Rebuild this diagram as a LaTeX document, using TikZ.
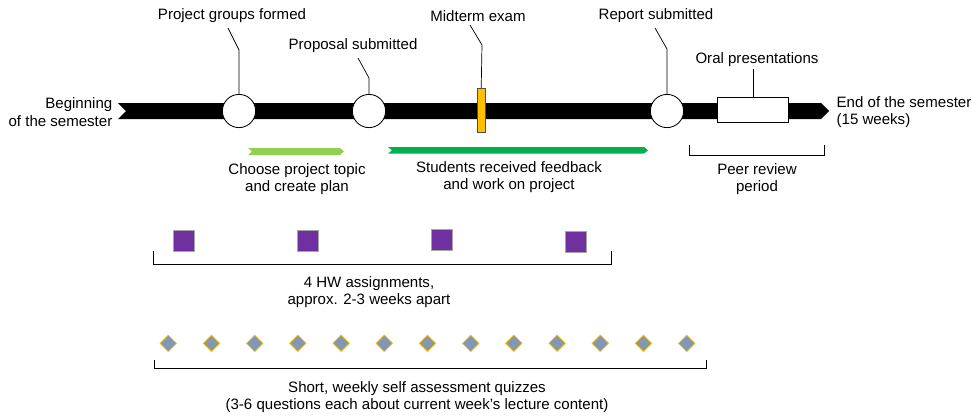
\documentclass[tikz,border=0pt]{standalone}
\usepackage{fontspec}
\setmainfont{Liberation Sans}
\usetikzlibrary{shapes.geometric}
\definecolor{lightgrn}{HTML}{92D050}
\definecolor{darkgrn}{HTML}{00B050}
\definecolor{examorange}{HTML}{FFC000}
\definecolor{hwpurple}{HTML}{7030A0}
\definecolor{quizgray}{HTML}{8497B0}
\begin{document}
\begin{tikzpicture}[x=0.025cm, y=-0.025cm, font=\fontsize{10.7}{12.5}\selectfont,
		milestone/.style={circle, draw, fill=white, line width=0.6pt, minimum size=0.83cm, inner sep=0pt},
		leader/.style={draw, line width=0.5pt},
		brace/.style={draw, line width=0.6pt},
		lbl/.style={align=center, inner sep=1pt},
		hw/.style={rectangle, draw=gray!70, fill=hwpurple, line width=0.5pt, minimum size=0.525cm, inner sep=0pt},
		quiz/.style={diamond, draw=examorange, fill=quizgray, line width=0.5pt, minimum size=0.42cm, inner sep=0pt}]
			\useasboundingbox (0,0) rectangle (972,416);
			% timeline
			\fill (118,103) -- (821,103) -- (829,111) -- (821,119) -- (118,119) -- (126,111) -- cycle;
			\node[lbl, anchor=east, align=right] (start) at (114,112) {Beginning\\of the semester};
			\node[lbl, anchor=west, align=left] (end) at (835,112) {End of the semester\\(15 weeks)};
			
			\node[milestone] (groups) at (239,111) {};
			\node[milestone] (proposal) at (369,111) {};
			\node[rectangle, draw=black!70, fill=examorange, line width=0.5pt, minimum width=0.19cm, minimum height=1.11cm, inner sep=0pt] (exam) at (481.2,110.5) {};
			\node[milestone] (report) at (667,111) {};
			\node[rectangle, draw, fill=white, line width=0.6pt, minimum width=1.765cm, minimum height=0.635cm, inner sep=0pt] (oral) at (753,110) {};
			
			\node[lbl] (groupslbl) at (232,16) {Project groups formed};
			\node[lbl] (proposallbl) at (353,46) {Proposal submitted};
			\node[lbl] (examlbl) at (478,16) {Midterm exam};
			\node[lbl] (reportlbl) at (656,16) {Report submitted};
			\node[lbl] (orallbl) at (757,60) {Oral presentations};
			
			\coordinate (gk) at (239,50);  \coordinate (ge) at (228,28);
			\coordinate (pk) at (369,78);  \coordinate (pe) at (358,58);
			\coordinate (ek) at (482,45);  \coordinate (ee) at (470,25);
			\coordinate (rk) at (667,49);  \coordinate (re) at (655,28);
			\coordinate (ok) at (753,69);
			\draw[leader] (groups.north) -- (gk) -- (ge);
			\draw[leader] (proposal.north) -- (pk) -- (pe);
			\draw[leader] (exam.north) -- (ek) -- (ee);
			\draw[leader] (report.north) -- (rk) -- (re);
			\draw[leader] (oral.north) -- (ok);
			
			% project phases
			\fill[lightgrn] (248,148) -- (340,148) -- (344,151.5) -- (340,155) -- (248,155) -- (252,151.5) -- cycle;
			\fill[darkgrn] (388,147) -- (644,147) -- (648,150.3) -- (644,153.5) -- (388,153.5) -- (392,150.3) -- cycle;
			\node[lbl] (topic) at (297,179) {Choose project topic\\and create plan};
			\node[lbl] (feedback) at (509,177) {Students received feedback\\and work on project};
			
			\draw[brace] (689,145) -- (689,155) -- (824,155) -- (824,145);
			\node[lbl] (peer) at (757,179) {Peer review\\period};
			
			% homework
			\node[hw] (hw1) at (184,241) {};
			\node[hw] (hw2) at (308,241) {};
			\node[hw] (hw3) at (442,240) {};
			\node[hw] (hw4) at (576,242) {};
			\draw[brace] (153,251) -- (153,264) -- (611,264) -- (611,251);
			\node[lbl] (hwlbl) at (369,292) {4 HW assignments,\\approx. 2-3 weeks apart};
			
			% quizzes
			\foreach \i in {0,...,12}
				\node[quiz] (q\i) at (168.3+43.2*\i,343.3) {};
			\draw[brace] (154,360) -- (154,368) -- (706,368) -- (706,360);
			\node[lbl] (quizlbl) at (417,397) {Short, weekly self assessment quizzes\\(3-6 questions each about current week's lecture content)};
			
			
		\end{tikzpicture}
\end{document}
